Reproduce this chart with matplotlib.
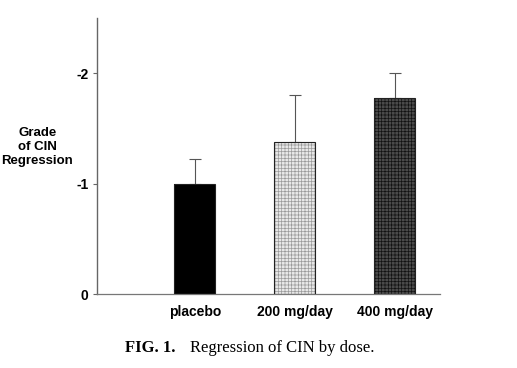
import numpy as np
import matplotlib.pyplot as plt

groups = ['placebo', '200 mg/day', '400 mg/day']
grade = [-1.00, -1.38, -1.78]
err_up = [0.22, 0.42, 0.22]
y_ticks = [0, -1, -2]
y_tick_labels = ['0', '-1', '-2']

faces = ['#000000', '#e8e8e8', '#4a4a4a']
hatch_cols = ['#000000', '#9a9a9a', '#111111']
hatches = [None, '+++++', '+++++']


def main():
    plt.rcParams['font.family'] = ['Liberation Sans', 'DejaVu Sans']
    plt.rcParams['hatch.linewidth'] = 0.5
    fig = plt.figure(figsize=(5.17, 3.68), dpi=100)
    ax = fig.add_axes([0.1876, 0.201, 0.6634, 0.75])

    x = np.arange(len(groups))
    # one-sided error bars, drawn behind the bars (axis runs negative upward)
    ax.errorbar(x, grade, yerr=[err_up, np.zeros(3)], fmt='none',
                ecolor='#555555', elinewidth=0.8, capsize=4,
                capthick=0.8, zorder=1)
    for i in range(len(groups)):
        ax.bar(x[i], grade[i], width=0.41, color=faces[i],
               edgecolor=hatch_cols[i], hatch=hatches[i], linewidth=0.0,
               zorder=2)
        ax.bar(x[i], grade[i], width=0.41, fill=False,
               edgecolor='#222222', linewidth=0.8, zorder=3)

    ax.set_xlim(-0.98, 2.45)
    ax.set_ylim(0, -2.5)
    ax.set_yticks(y_ticks)
    ax.set_yticklabels(y_tick_labels, fontweight='bold', fontsize=10)
    ax.set_xticks(x)
    ax.set_xticklabels(groups, fontweight='bold', fontsize=10)
    ax.tick_params(axis='x', length=0, pad=8)
    ax.tick_params(axis='y', length=3, width=0.8, color='#666666', pad=3)

    for s in ['top', 'right']:
        ax.spines[s].set_visible(False)
    ax.spines['left'].set_color('#666666')
    ax.spines['bottom'].set_color('#777777')
    ax.spines['left'].set_linewidth(1.0)
    ax.spines['bottom'].set_linewidth(0.9)

    fig.text(0.072, 0.6, 'Grade\nof CIN\nRegression', ha='center',
             va='center', fontweight='bold', fontsize=9.5, linespacing=1.2)

    fig.text(0.242, 0.054, 'FIG. 1.', family='Liberation Serif',
             fontweight='bold', fontsize=12, ha='left', va='center')
    fig.text(0.367, 0.054, 'Regression of CIN by dose.',
             family='Liberation Serif', fontsize=12, ha='left', va='center')

    fig.savefig('out.png', dpi=100)


if __name__ == '__main__':
    main()
